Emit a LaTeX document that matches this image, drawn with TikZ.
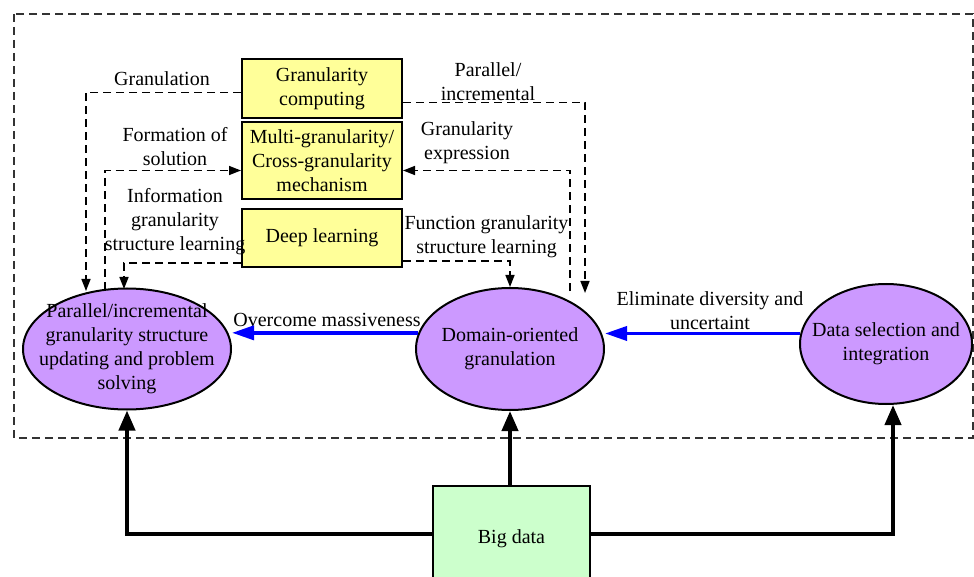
\documentclass[tikz,border=0pt]{standalone}
\usepackage{fontspec}
\setmainfont{Liberation Serif}
\usetikzlibrary{arrows.meta,shapes.geometric}

\definecolor{jaune}{RGB}{255,255,153}
\definecolor{mauve}{RGB}{204,153,255}
\definecolor{vert}{RGB}{204,255,204}

\tikzset{boite/.style = {draw, fill = jaune, line width = 1pt, minimum width = 80pt,
                         minimum height = #1, align = center, inner sep = 0pt},
         boite/.default = 29pt,
         bulle/.style = {ellipse, draw, fill = mauve, line width = 1pt, align = center,
                         inner sep = -10pt},
         pointille/.style = {line width = 0.75pt, dash pattern = on 4pt off 2.5pt},
         fp/.style = {pointille, -{Triangle[length=6pt,width=4.5pt]}},
         epais/.style = {line width = 2pt, -{Triangle[length=10pt,width=8pt]}},
         bleu/.style = {blue, line width = 1.8pt, -{Triangle[length=11pt,width=7pt]}}
        }

\begin{document}
\begin{tikzpicture}[x=0.5pt, y=-0.5pt, font=\fontsize{10}{12}\selectfont]
\useasboundingbox (0,0) rectangle (974,577);
\draw[pointille, black!80] (14,14) rectangle (973,438);

\node[boite=29.5pt] (gc) at (322,88.5) {Granularity\\computing};
\node[boite=38.5pt] (mg) at (322,160.5) {Multi-granularity/\\Cross-granularity\\mechanism};
\node[boite=29pt]   (dl) at (322,238) {Deep learning};

\node[bulle, minimum width=104pt, minimum height=60.5pt] (pir) at (127,349)
     {Parallel/incremental\\granularity structure\\updating and problem\\solving};
\node[bulle, minimum width=94pt, minimum height=61pt] (dog) at (510,349)
     {Domain-oriented\\granulation};
\node[bulle, minimum width=86pt, minimum height=60pt] (dsi) at (886,344)
     {Data selection and\\integration};
\node[draw, fill=vert, line width=1pt, minimum width=78.5pt, minimum height=53pt] (bd)
     at (511.5,539) {Big data};

\coordinate (gr) at (86,291);
\coordinate (fo) at (105,290);
\coordinate (inf) at (124,289);
\coordinate (pa) at (585,293);
\coordinate (ex) at (570,291);

\draw[fp] ([yshift=-2pt]gc.west) -| (gr);
\draw[fp] (fo) |- ([yshift=-5pt]mg.west);
\draw[fp] ([yshift=-12.5pt]dl.west) -| (inf);
\draw[fp] ([yshift=-7pt]gc.east) -| (pa);
\draw[fp] (ex) |- ([yshift=-5pt]mg.east);
\draw[fp] ([yshift=-11.5pt]dl.east) -| (dog.north);

\node (lgr) at (162,79) {Granulation};
\node[align=center] (lfo) at (175,146.5) {Formation of\\solution};
\node[align=center] (linf) at (175,222) {Information\\granularity\\structure learning};
\node[align=center] (lpa) at (488,82) {Parallel/\\incremental};
\node[align=center] (lex) at (467,142.5) {Granularity\\expression};
\node[align=center] (lfu) at (486.5,236.5) {Function granularity\\structure learning};
\node (lom) at (327,320) {Overcome massiveness};
\node[align=center] (lel) at (710,310.5) {Eliminate diversity and\\uncertaint};

\draw[bleu] (dog.170) -- (dog.170 -| pir.east);
\draw[bleu] (dsi.173) -- (dsi.173 -| dog.east);

\draw[epais] ([yshift=2.5pt]bd.west) -| (pir.south);
\draw[epais] (bd.north -| dog.south) -- (dog.south);
\draw[epais] ([yshift=2.5pt]bd.east) -| ([xshift=3.5pt]dsi.south);
\end{tikzpicture}
\end{document}
